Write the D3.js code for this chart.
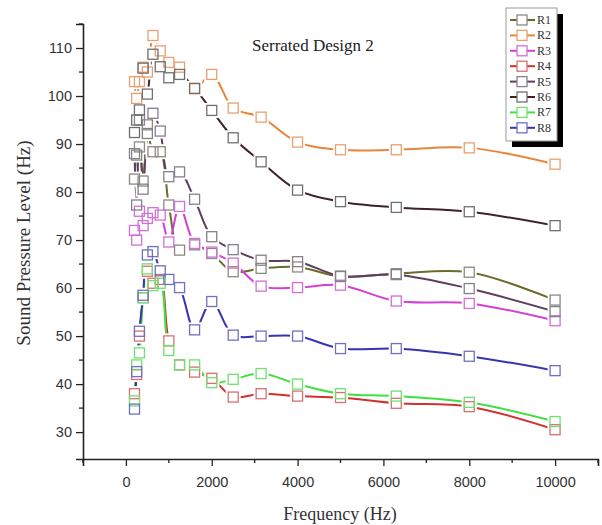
<!DOCTYPE html>
<html>
<head>
<meta charset="utf-8">
<script src="https://cdn.jsdelivr.net/npm/d3@7"></script>
<style>
  body { margin: 0; background: #fff; }
  svg { display: block; }
</style>
</head>
<body>
<div id="chart"></div>
<script>
// ── Data ─────────────────────────────────────────────────────────────────────
const freqs = [200, 250, 315, 400, 500, 630, 800, 1000, 1250, 1600, 2000, 2500, 3150, 4000, 5000, 6300, 8000, 10000];

const r1 = [82.7, 87.7, 89.4, 82.3, 94.0, 88.4, 88.4, 77.3, 67.9, 69.0, 67.2, 63.4, 64.1, 64.4, 62.4, 63.0, 63.3, 57.5];
const r2 = [103.0, 99.5, 103.0, 106.0, 105.0, 112.6, 109.4, 107.0, 106.0, 101.5, 104.5, 97.5, 95.6, 90.4, 88.8, 88.8, 89.2, 85.8];
const r3 = [72.0, 70.0, 76.0, 73.0, 74.5, 75.7, 75.2, 69.6, 77.0, 69.3, 67.5, 65.2, 60.4, 60.1, 60.6, 57.3, 56.8, 53.2];
const r4 = [38.0, 42.0, 50.0, 58.0, 63.5, 61.0, 61.8, 49.0, 44.0, 42.5, 41.2, 37.3, 38.0, 37.5, 37.2, 36.0, 35.3, 30.5];
const r5 = [88.0, 77.3, 95.0, 80.6, 92.2, 96.4, 92.7, 83.2, 84.2, 78.5, 70.7, 68.0, 65.8, 65.5, 62.5, 62.8, 59.9, 55.1];
const r6 = [92.4, 95.0, 97.1, 105.8, 100.4, 108.7, 106.1, 103.8, 104.5, 101.6, 97.0, 91.3, 86.3, 80.4, 78.0, 76.8, 75.9, 73.0];
const r7 = [36.5, 44.0, 46.5, 58.0, 64.0, 60.5, 61.0, 47.0, 44.0, 44.0, 40.3, 41.0, 42.2, 40.0, 38.0, 37.5, 36.2, 32.2];
const r8 = [34.8, 42.6, 51.0, 58.5, 66.9, 67.6, 63.6, 61.8, 60.1, 51.3, 57.2, 50.2, 50.0, 50.0, 47.4, 47.4, 45.8, 42.8];

const seriesNames = ["R1", "R2", "R3", "R4", "R5", "R6", "R7", "R8"];
const seriesValues = [r1, r2, r3, r4, r5, r6, r7, r8];
const lineColors = ["#6b6b2e", "#e8853a", "#d43fd4", "#d43030", "#5e3f5e", "#3d2326", "#3fe03f", "#3535b0"];
const markColors = ["#8a8a80", "#e8a070", "#d070d8", "#d87070", "#858090", "#707070", "#70e070", "#7070c0"];

const xTicks = [0, 2000, 4000, 6000, 8000, 10000];
const yTicks = [30, 40, 50, 60, 70, 80, 90, 100, 110];

// ── Chart ───────────────────────────────────────────────────────────────────
const width = 602;
const height = 525;

const svg = d3.select("#chart").append("svg")
  .attr("width", width).attr("height", height);

const x = d3.scaleLinear().domain([-1000, 11000]).range([83, 598]);
const y = d3.scaleLinear().domain([24.4, 115]).range([459, 24]);

const serif = "'Liberation Serif', 'Times New Roman', serif";
const sans = "'Liberation Sans', Arial, sans-serif";

// Axes.
const xAxis = svg.append("g").attr("transform", `translate(0,${y.range()[0]})`);
xAxis.call(d3.axisBottom(x).tickValues(xTicks).tickSize(7).tickPadding(6).tickFormat(d3.format("d")));
xAxis.append("g").selectAll("line").data(d3.range(-1000, 11001, 2000)).join("line")
  .attr("x1", d => x(d)).attr("x2", d => x(d)).attr("y1", 0).attr("y2", 4)
  .attr("stroke", "#222").attr("stroke-width", 1.3);

const yAxis = svg.append("g").attr("transform", `translate(${x.range()[0]},0)`);
yAxis.call(d3.axisLeft(y).tickValues(yTicks).tickSize(7).tickPadding(4));
yAxis.append("g").selectAll("line").data(d3.range(35, 116, 10)).join("line")
  .attr("x1", -4).attr("x2", 0).attr("y1", d => y(d)).attr("y2", d => y(d))
  .attr("stroke", "#222").attr("stroke-width", 1.3);

for (const ax of [xAxis, yAxis]) {
  ax.select(".domain").attr("stroke", "#222").attr("stroke-width", 1.6);
  ax.selectAll(".tick line").attr("stroke", "#222").attr("stroke-width", 1.3);
  ax.selectAll(".tick text").attr("font-family", sans).attr("font-size", "14.5px").attr("fill", "#333");
}
xAxis.selectAll(".tick text").attr("dy", "1em");

// Axis titles.
svg.append("text")
  .attr("x", 340).attr("y", 520)
  .attr("text-anchor", "middle")
  .attr("font-family", serif).attr("font-size", "18px").attr("fill", "#333")
  .text("Frequency (Hz)");

svg.append("text")
  .attr("transform", "translate(30,243) rotate(-90)")
  .attr("text-anchor", "middle")
  .attr("font-family", serif).attr("font-size", "19px").attr("fill", "#333")
  .text("Sound Pressure Level (Hz)");

svg.append("text")
  .attr("x", 252).attr("y", 51)
  .attr("font-family", serif).attr("font-size", "17px").attr("fill", "#222")
  .text("Serrated Design 2");

// Lines, then white gaps round each point, then the square markers.
const line = d3.line()
  .x((d, i) => x(freqs[i]))
  .y(d => y(d))
  .curve(d3.curveCatmullRom.alpha(0.5));

const plot = svg.append("g");
seriesValues.forEach((vals, k) => {
  plot.append("path")
    .datum(vals)
    .attr("d", line)
    .attr("fill", "none")
    .attr("stroke", lineColors[k])
    .attr("stroke-width", 2);
});

seriesValues.forEach((vals) => {
  plot.append("g").selectAll("rect").data(vals).join("rect")
    .attr("x", (d, i) => x(freqs[i]) - 7.5)
    .attr("y", d => y(d) - 7.5)
    .attr("width", 15).attr("height", 15)
    .attr("fill", "#fff");
});

seriesValues.forEach((vals, k) => {
  plot.append("g").selectAll("rect").data(vals).join("rect")
    .attr("x", (d, i) => x(freqs[i]) - 5)
    .attr("y", d => y(d) - 5)
    .attr("width", 10).attr("height", 10)
    .attr("fill", "none")
    .attr("stroke", markColors[k])
    .attr("stroke-width", 1.3);
});

// Legend.
const legend = svg.append("g");
legend.append("rect")
  .attr("x", 512).attr("y", 14).attr("width", 51).attr("height", 133)
  .attr("fill", "#000");
legend.append("rect")
  .attr("x", 506).attr("y", 8).attr("width", 51).attr("height", 133)
  .attr("fill", "#fff").attr("stroke", "#999").attr("stroke-width", 1);

seriesNames.forEach((name, k) => {
  const cy = 20 + k * 15.4;
  legend.append("line")
    .attr("x1", 510).attr("x2", 535).attr("y1", cy).attr("y2", cy)
    .attr("stroke", lineColors[k]).attr("stroke-width", 2);
  legend.append("rect")
    .attr("x", 517).attr("y", cy - 5).attr("width", 10).attr("height", 10)
    .attr("fill", "#fff").attr("stroke", markColors[k]).attr("stroke-width", 1.3);
  legend.append("text")
    .attr("x", 537).attr("y", cy + 4)
    .attr("font-family", serif).attr("font-size", "12px").attr("fill", "#333")
    .text(name);
});
</script>
</body>
</html>
